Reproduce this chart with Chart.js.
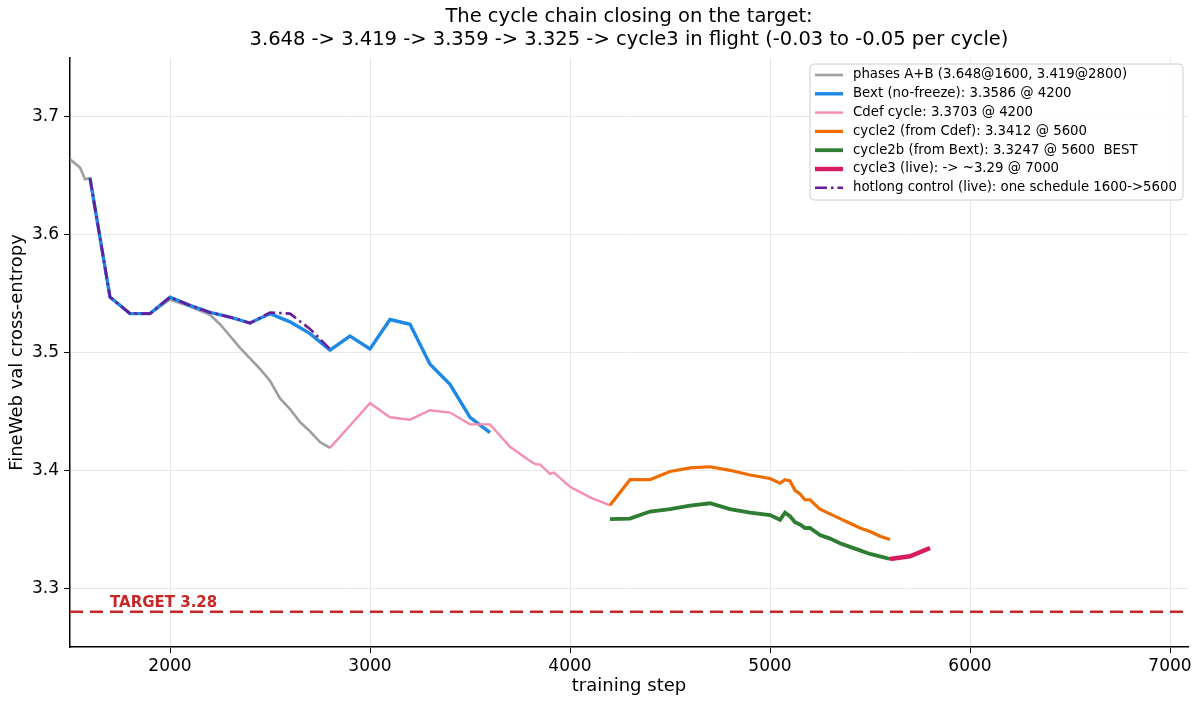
<!DOCTYPE html>
<html>
<head>
<meta charset="utf-8">
<script src="https://cdn.jsdelivr.net/npm/chart.js@4.4.1/dist/chart.umd.min.js"></script>
<style>
  html, body { margin: 0; padding: 0; background: #fff; }
  #myChart { display: block; }
</style>
</head>
<body>
<canvas id="myChart" width="1200" height="705"></canvas>
<script>
// values
var titleLines = [
    'The cycle chain closing on the target:',
    '3.648 -> 3.419 -> 3.359 -> 3.325 -> cycle3 in flight (-0.03 to -0.05 per cycle)'
];

var xTicks = [2000, 3000, 4000, 5000, 6000, 7000];
var yTicks = [3.3, 3.4, 3.5, 3.6, 3.7];

var phaseSteps = [1500, 1550, 1575, 1600, 1700, 1800, 1900, 2000, 2100, 2200, 2250, 2300, 2350, 2400, 2450, 2500, 2550, 2600, 2650, 2700, 2750, 2800];
var phaseVals = [3.664, 3.657, 3.647, 3.648, 3.547, 3.533, 3.533, 3.545, 3.539, 3.532, 3.524, 3.514, 3.504, 3.495, 3.486, 3.476, 3.461, 3.452, 3.441, 3.433, 3.424, 3.419];

var bextSteps = [1600, 1700, 1800, 1900, 2000, 2100, 2200, 2300, 2400, 2500, 2600, 2700, 2800, 2900, 3000, 3100, 3200, 3300, 3400, 3500, 3600];
var bextVals = [3.648, 3.547, 3.533, 3.533, 3.547, 3.540, 3.534, 3.530, 3.525, 3.533, 3.526, 3.516, 3.502, 3.514, 3.503, 3.528, 3.524, 3.490, 3.473, 3.445, 3.432];

var cdefSteps = [2800, 2900, 3000, 3100, 3200, 3300, 3400, 3500, 3600, 3700, 3800, 3830, 3850, 3900, 3920, 4000, 4100, 4200];
var cdefVals = [3.419, 3.438, 3.457, 3.445, 3.443, 3.451, 3.449, 3.439, 3.439, 3.420, 3.408, 3.405, 3.405, 3.397, 3.398, 3.386, 3.377, 3.3703];

var cycleSteps = [4200, 4300, 4400, 4500, 4600, 4700, 4800, 4900, 5000, 5050, 5075, 5100, 5125, 5150, 5175, 5200, 5250, 5300, 5350, 5400, 5450, 5500, 5550, 5600];
var cycle2Vals = [3.3703, 3.392, 3.392, 3.399, 3.402, 3.403, 3.400, 3.396, 3.393, 3.389, 3.392, 3.391, 3.383, 3.380, 3.375, 3.375, 3.367, 3.363, 3.359, 3.355, 3.351, 3.348, 3.344, 3.3412];
var cycle2bVals = [3.3586, 3.359, 3.365, 3.367, 3.370, 3.372, 3.367, 3.364, 3.362, 3.358, 3.364, 3.361, 3.356, 3.354, 3.351, 3.351, 3.345, 3.342, 3.338, 3.335, 3.332, 3.329, 3.327, 3.3247];

var cycle3Steps = [5600, 5700, 5800];
var cycle3Vals = [3.3247, 3.327, 3.334];

var hotSteps = [1600, 1700, 1800, 1900, 2000, 2100, 2200, 2300, 2400, 2500, 2600, 2700, 2800];
var hotVals = [3.648, 3.547, 3.533, 3.533, 3.547, 3.540, 3.534, 3.530, 3.525, 3.534, 3.533, 3.520, 3.503];

var TARGET = 3.28;
var xRange = [1500, 7090];
var yRange = [3.25, 3.75];

function pts(xs, ys) {
    return xs.map((x, i) => ({ x: x, y: ys[i] }));
}

var series = [
    { label: 'phases A+B (3.648@1600, 3.419@2800)', data: pts(phaseSteps, phaseVals), color: '#9e9e9e', width: 2.6 },
    { label: 'Bext (no-freeze): 3.3586 @ 4200', data: pts(bextSteps, bextVals), color: '#1e88e5', width: 3.4 },
    { label: 'Cdef cycle: 3.3703 @ 4200', data: pts(cdefSteps, cdefVals), color: '#f48fb1', width: 2.4 },
    { label: 'cycle2 (from Cdef): 3.3412 @ 5600', data: pts(cycleSteps, cycle2Vals), color: '#ef6c00', width: 3.2 },
    { label: 'cycle2b (from Bext): 3.3247 @ 5600  BEST', data: pts(cycleSteps, cycle2bVals), color: '#2e7d32', width: 3.8 },
    { label: 'cycle3 (live): -> ~3.29 @ 7000', data: pts(cycle3Steps, cycle3Vals), color: '#d81b60', width: 4.4 },
    { label: 'hotlong control (live): one schedule 1600->5600', data: pts(hotSteps, hotVals), color: '#6a1b9a', width: 2.6, dash: [12, 4, 2.5, 4] }
];

var datasets = series.map((s, i) => ({
    label: s.label,
    data: s.data,
    borderColor: s.color,
    backgroundColor: s.color,
    borderWidth: s.width,
    borderDash: s.dash || [],
    pointRadius: 0,
    tension: 0,
    fill: false,
    order: series.length - i
}));

datasets.push({
    label: 'target',
    data: [{ x: xRange[0], y: TARGET }, { x: xRange[1], y: TARGET }],
    borderColor: '#c62828',
    borderWidth: 2.5,
    borderDash: [13, 7],
    pointRadius: 0,
    fill: false,
    order: series.length + 1
});

// title, legend box and target label
const extras = {
    id: 'extras',
    afterDraw(chart) {
        const ctx = chart.ctx;
        const area = chart.chartArea;
        ctx.save();

        ctx.fillStyle = '#000';
        ctx.font = '19.5px "DejaVu Sans"';
        ctx.textAlign = 'center';
        ctx.textBaseline = 'middle';
        const cx = (area.left + area.right) / 2;
        ctx.fillText(titleLines[0], cx, 17);
        ctx.fillText(titleLines[1], cx, 40);

        const xs = chart.scales.x, ys = chart.scales.y;
        ctx.fillStyle = '#c62828';
        ctx.font = 'bold 15px "DejaVu Sans"';
        ctx.textAlign = 'left';
        ctx.textBaseline = 'alphabetic';
        ctx.fillText('TARGET 3.28', xs.getPixelForValue(1700), ys.getPixelForValue(TARGET) - 5);

        // legend
        const bx = 810, by = 64, bw = 373, bh = 136, rowH = 18.8;
        ctx.beginPath();
        ctx.roundRect(bx, by, bw, bh, 4);
        ctx.fillStyle = 'rgba(255,255,255,0.85)';
        ctx.fill();
        ctx.strokeStyle = '#cccccc';
        ctx.lineWidth = 1;
        ctx.stroke();

        ctx.font = '13.3px "DejaVu Sans"';
        ctx.textBaseline = 'middle';
        series.forEach((s, i) => {
            const yy = by + 11 + i * rowH;
            ctx.beginPath();
            ctx.setLineDash(s.dash || []);
            ctx.strokeStyle = s.color;
            ctx.lineWidth = s.width;
            ctx.moveTo(815, yy);
            ctx.lineTo(843, yy);
            ctx.stroke();
            ctx.setLineDash([]);
            ctx.fillStyle = '#000';
            ctx.fillText(s.label, 853, yy);
        });
        ctx.restore();
    }
};

Chart.defaults.font.family = '"DejaVu Sans"';
Chart.defaults.color = '#000';

const ctx = document.getElementById('myChart').getContext('2d');
const myChart = new Chart(ctx, {
    type: 'line',
    data: { datasets: datasets },
    options: {
        responsive: false,
        animation: false,
        layout: { padding: { top: 58, right: 12, left: 0, bottom: 0 } },
        plugins: {
            legend: { display: false },
            title: { display: false },
            tooltip: { enabled: false }
        },
        scales: {
            x: {
                type: 'linear',
                min: xRange[0],
                max: xRange[1],
                afterBuildTicks: function (scale) { scale.ticks = xTicks.map(v => ({ value: v })); },
                afterFit: function (scale) { scale.height = 58; },
                ticks: {
                    font: { size: 17 },
                    color: '#000',
                    maxRotation: 0,
                    autoSkip: false,
                    padding: 3,
                    callback: function (v) { return String(v); }
                },
                grid: { color: '#e8e8e8', tickColor: '#000', tickLength: 6 },
                border: { display: true, color: '#000', width: 1.5 },
                title: { display: true, text: 'training step', font: { size: 18 }, padding: { top: 0, bottom: 8 } }
            },
            y: {
                type: 'linear',
                min: yRange[0],
                max: yRange[1],
                afterBuildTicks: function (scale) { scale.ticks = yTicks.map(v => ({ value: v })); },
                afterFit: function (scale) { scale.width = 70; },
                ticks: {
                    font: { size: 17 },
                    color: '#000',
                    autoSkip: false,
                    padding: 5,
                    callback: function (v) { return v.toFixed(1); }
                },
                grid: { color: '#e8e8e8', tickColor: '#000', tickLength: 6 },
                border: { display: true, color: '#000', width: 1.5 },
                title: { display: true, text: 'FineWeb val cross-entropy', font: { size: 18 }, padding: { top: 7, bottom: 4 } }
            }
        }
    },
    plugins: [extras]
});
</script>
</body>
</html>
